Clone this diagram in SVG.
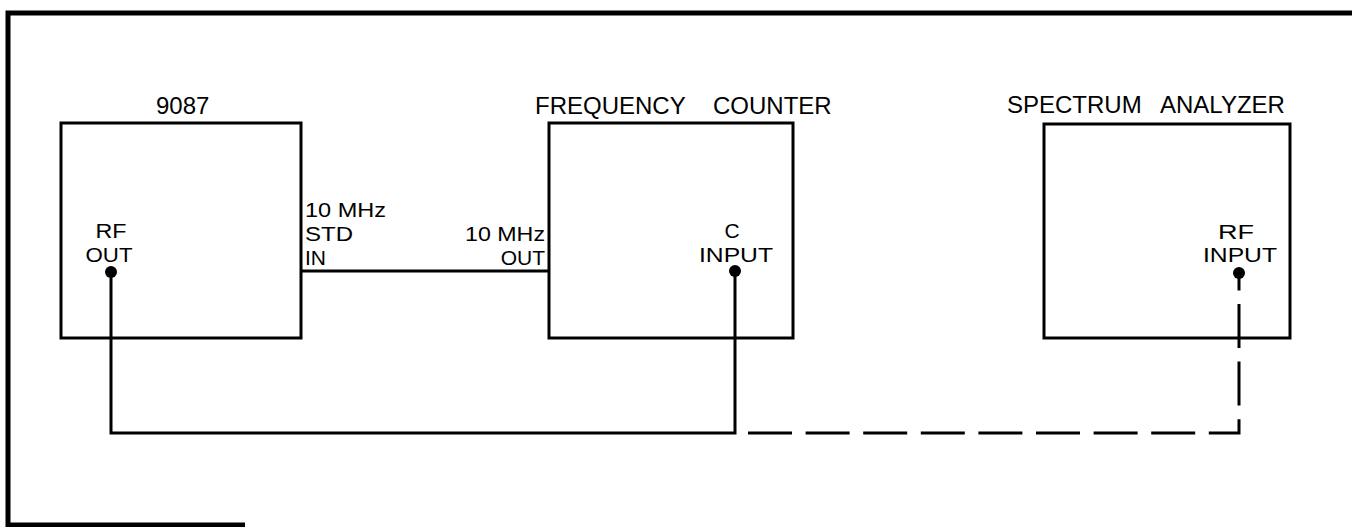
<svg xmlns="http://www.w3.org/2000/svg" width="1352" height="527" viewBox="0 0 1352 527">
<style>
.box{fill:none;stroke:#000;stroke-width:3}
.frame{fill:none;stroke:#000;stroke-width:5}
.wire{fill:none;stroke:#000;stroke-width:3}
.dash{fill:none;stroke:#000;stroke-width:3;stroke-dasharray:44 13.6}
.dot{fill:#000}
.title{font-family:"Liberation Sans",Arial,sans-serif;font-size:24px;fill:#000}
.lbl{font-family:"Liberation Sans",Arial,sans-serif;font-size:21px;fill:#000}
.mid{text-anchor:middle}
.end{text-anchor:end}
</style>
<rect width="1352" height="527" fill="#fff"/>
<path class="frame" d="M245,525 L8,525 L8,13 L1352,13"/>

<g id="node-9087">
  <rect class="box" x="61" y="123" width="240" height="215"/>
  <text class="title" x="156" y="114">9087</text>
  <text class="lbl mid" x="111" y="238" textLength="31" lengthAdjust="spacingAndGlyphs">RF</text>
  <text class="lbl mid" x="109" y="262" textLength="47" lengthAdjust="spacingAndGlyphs">OUT</text>
  <text class="lbl" x="305" y="217" textLength="81" lengthAdjust="spacingAndGlyphs">10 MHz</text>
  <text class="lbl" x="305" y="241" textLength="48" lengthAdjust="spacingAndGlyphs">STD</text>
  <text class="lbl" x="305" y="265">IN</text>
  <circle class="dot" cx="111" cy="272" r="6"/>
</g>

<g id="node-frequency-counter">
  <rect class="box" x="549" y="123" width="244" height="215"/>
  <text class="title" x="535" y="114">FREQUENCY <tspan x="713">COUNTER</tspan></text>
  <text class="lbl mid" x="732" y="238">C</text>
  <text class="lbl mid" x="736" y="262" textLength="74" lengthAdjust="spacingAndGlyphs">INPUT</text>
  <text class="lbl" x="465" y="241" textLength="80" lengthAdjust="spacingAndGlyphs">10 MHz</text>
  <text class="lbl end" x="545" y="265">OUT</text>
  <circle class="dot" cx="735" cy="271" r="6"/>
</g>

<g id="node-spectrum-analyzer">
  <rect class="box" x="1044" y="124" width="246" height="214"/>
  <text class="title" x="1007" y="113">SPECTRUM <tspan x="1160">ANALYZER</tspan></text>
  <text class="lbl mid" x="1236" y="239" textLength="36" lengthAdjust="spacingAndGlyphs">RF</text>
  <text class="lbl mid" x="1240" y="262" textLength="74" lengthAdjust="spacingAndGlyphs">INPUT</text>
  <circle class="dot" cx="1239" cy="273" r="6"/>
</g>

<g id="connectors">
  <path class="wire" d="M302,271 H549"/>
  <path class="wire" d="M111,272 V433 H735 V271"/>
  <path class="dash" d="M748,433 H1239 V273"/>
</g>
</svg>
